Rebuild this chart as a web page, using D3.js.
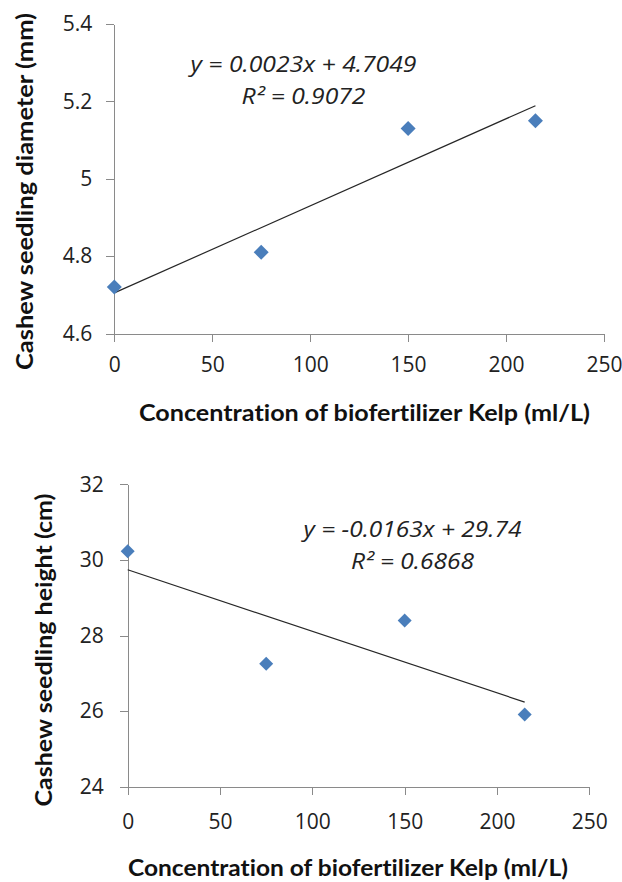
<!DOCTYPE html>
<html>
<head>
<meta charset="utf-8">
<script src="https://cdn.jsdelivr.net/npm/d3@7"></script>
<style>
body{margin:0;background:#fff;}
svg{display:block;}
text{font-variant-ligatures:none;font-feature-settings:"liga" 0;}
</style>
</head>
<body>
<svg width="622" height="882"></svg>
<script>
// kelp concentration (ml/L), same for both charts
var kelpConc = [0, 75, 150, 215];
// seedling diameter (mm)
var diameterVals = [4.72, 4.81, 5.13, 5.15];
// seedling height (cm)
var heightVals = [30.23, 27.25, 28.40, 25.91];

var xTicks = [0, 50, 100, 150, 200, 250];
var diameterTicks = [4.6, 4.8, 5.0, 5.2, 5.4];
var heightTicks = [24, 26, 28, 30, 32];

var diameterEq = ['y = 0.0023x + 4.7049', 'R\u00b2 = 0.9072'];
var heightEq = ['y = -0.0163x + 29.74', 'R\u00b2 = 0.6868'];

var xTitle = 'Concentration of biofertilizer Kelp (ml/L)';
var diameterTitle = 'Cashew seedling diameter (mm)';
var heightTitle = 'Cashew seedling height (cm)';

var svg = d3.select('svg');
var axisColor = '#8a8a8a';
var dotColor = '#4a7ebb';

// least squares line through the points (Excel linear trendline)
var fitLine = function(xs, ys){
	var mx = d3.mean(xs), my = d3.mean(ys), sxy = 0, sxx = 0;
	for (var i = 0; i < xs.length; i++){
		sxy += (xs[i]-mx)*(ys[i]-my);
		sxx += (xs[i]-mx)*(xs[i]-mx);
	}
	var m = sxy/sxx;
	return {m: m, b: my - m*mx};
};

var squeeze = function(sel, w){
	sel.attr('textLength', w).attr('lengthAdjust', 'spacingAndGlyphs');
};

var drawPanel = function(p){
	var x = d3.scaleLinear().domain([0, 250]).range([p.left, p.right]);
	var y = d3.scaleLinear().domain(p.ydom).range([p.bottom, p.top]);
	var g = svg.append('g');

	var ax = g.append('g')
		.attr('transform', 'translate(0,' + p.bottom + ')')
		.call(d3.axisBottom(x).tickValues(xTicks).tickSize(8).tickSizeOuter(0).tickPadding(p.xPad));
	var ay = g.append('g')
		.attr('transform', 'translate(' + p.left + ',0)')
		.call(d3.axisLeft(y).tickValues(p.yticks).tickSize(8).tickSizeOuter(0).tickPadding(p.yPad)
			.tickFormat(function(d){ return String(+d.toFixed(1)); }));
	[ax, ay].forEach(function(a){
		a.selectAll('path, line').attr('stroke', axisColor).attr('shape-rendering', 'crispEdges');
		a.selectAll('text').attr('fill', '#222').style('font-family', '"Open Sans", sans-serif').style('font-size', '21px');
	});

	// trendline
	var fit = fitLine(kelpConc, p.vals);
	var xr = d3.extent(kelpConc);
	g.append('line')
		.attr('x1', x(xr[0])).attr('y1', y(fit.b + fit.m*xr[0]))
		.attr('x2', x(xr[1])).attr('y2', y(fit.b + fit.m*xr[1]))
		.attr('stroke', '#262626').attr('stroke-width', 1.2);

	// diamond markers
	var s = p.mark;
	g.selectAll('path.pt').data(kelpConc).enter().append('path')
		.attr('class', 'pt')
		.attr('d', 'M0,' + (-s) + 'L' + s + ',0L0,' + s + 'L' + (-s) + ',0Z')
		.attr('transform', function(d, i){ return 'translate(' + x(d) + ',' + y(p.vals[i]) + ')'; })
		.attr('fill', dotColor);

	// equation label
	var eq = g.append('g').style('font-family', '"Open Sans", sans-serif').style('font-style', 'italic')
		.style('font-size', '21px').attr('fill', '#222').attr('text-anchor', 'middle');
	eq.append('text').attr('x', p.eqX).attr('y', p.eqY).text(p.eq[0]).call(squeeze, p.eqW[0]);
	eq.append('text').attr('x', p.eqX).attr('y', p.eqY + p.eqGap).text(p.eq[1]).call(squeeze, p.eqW[1]);

	// axis titles
	g.append('text')
		.attr('x', p.xtX).attr('y', p.xtY).attr('text-anchor', 'middle')
		.style('font-family', 'Lato, sans-serif').style('font-weight', 'bold').style('font-size', p.tSize + 'px')
		.attr('fill', '#111').text(xTitle).call(squeeze, p.xtW);
	g.append('text')
		.attr('transform', 'translate(' + p.ytX + ',' + p.ytY + ') rotate(-90)').attr('text-anchor', 'middle')
		.style('font-family', 'Lato, sans-serif').style('font-weight', 'bold').style('font-size', p.tSize + 'px')
		.attr('fill', '#111').text(p.ytitle).call(squeeze, p.ytW);
};

drawPanel({
	left: 114.3, right: 604, top: 24, bottom: 333.5,
	ydom: [4.6, 5.4], yticks: diameterTicks, vals: diameterVals,
	xPad: 16, yPad: 14, mark: 7.5,
	eq: diameterEq, eqX: 303.5, eqY: 71.5, eqGap: 32, eqW: [226, 124],
	tSize: 23, xtX: 364.5, xtY: 421, xtW: 451,
	ytitle: diameterTitle, ytX: 33, ytY: 191.5, ytW: 357
});

drawPanel({
	left: 127.7, right: 589.3, top: 484.3, bottom: 786.7,
	ydom: [24, 32], yticks: heightTicks, vals: heightVals,
	xPad: 19, yPad: 16, mark: 7,
	eq: heightEq, eqX: 412.5, eqY: 536.5, eqGap: 32, eqW: [218, 123],
	tSize: 22, xtX: 348, xtY: 876, xtW: 440,
	ytitle: heightTitle, ytX: 52, ytY: 650, ytW: 313
});
</script>
</body>
</html>
